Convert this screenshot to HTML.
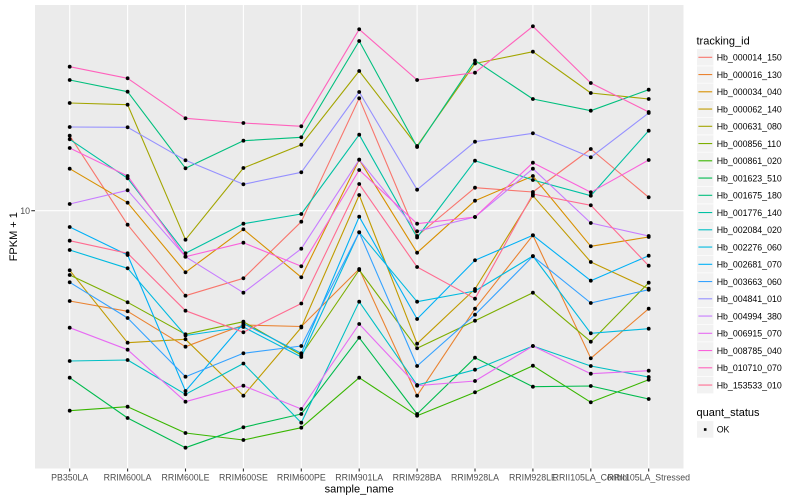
<!DOCTYPE html>
<html><head><meta charset="utf-8"><style>
html,body{margin:0;padding:0;background:#fff;}
svg{display:block;font-family:"Liberation Sans",Arial,sans-serif;}
.ax{fill:#4D4D4D;font-size:8.8px;}
.lg{fill:#000;font-size:8.8px;}
.tt{fill:#000;font-size:11px;}
.s{fill:none;stroke-width:1.1;stroke-linejoin:round;}
.p{fill:none;stroke:none;marker-start:url(#m);marker-mid:url(#m);marker-end:url(#m);}
</style></head><body>
<svg width="800" height="500" viewBox="0 0 800 500" xmlns="http://www.w3.org/2000/svg">
<defs>
<marker id="m" markerUnits="userSpaceOnUse" markerWidth="5" markerHeight="5" refX="2.5" refY="2.5"><circle cx="2.5" cy="2.5" r="1.9" fill="#000"/></marker>
</defs>
<rect width="800" height="500" fill="#fff"/>
<rect x="35" y="5" width="648.5" height="463.5" fill="#EBEBEB"/>
<g stroke="#fff" stroke-width="1.1">
<line x1="35" y1="210.7" x2="683.5" y2="210.7"/>
<line x1="69.7" y1="5" x2="69.7" y2="468.5"/>
<line x1="127.6" y1="5" x2="127.6" y2="468.5"/>
<line x1="185.5" y1="5" x2="185.5" y2="468.5"/>
<line x1="243.4" y1="5" x2="243.4" y2="468.5"/>
<line x1="301.3" y1="5" x2="301.3" y2="468.5"/>
<line x1="359.2" y1="5" x2="359.2" y2="468.5"/>
<line x1="417.1" y1="5" x2="417.1" y2="468.5"/>
<line x1="475" y1="5" x2="475" y2="468.5"/>
<line x1="532.9" y1="5" x2="532.9" y2="468.5"/>
<line x1="590.8" y1="5" x2="590.8" y2="468.5"/>
<line x1="648.7" y1="5" x2="648.7" y2="468.5"/>
</g>
<g id="lines">
<polyline class="s" stroke="#F8766D" points="69.7,135.7 127.6,224.7 185.5,295.7 243.4,278.3 301.3,221.7 359.2,98.3 417.1,236 475,187.7 532.9,192 590.8,149 648.7,197.3"/>
<polyline class="s" stroke="#EA8331" points="69.7,301 127.6,311.3 185.5,346.7 243.4,325 301.3,326.5 359.2,269 417.1,395.7 475,308.7 532.9,235.3 590.8,358.3 648.7,308.7"/>
<polyline class="s" stroke="#D89000" points="69.7,168.7 127.6,202.7 185.5,272.3 243.4,229.3 301.3,277.3 359.2,159.7 417.1,252.7 475,200.7 532.9,176 590.8,246.3 648.7,237"/>
<polyline class="s" stroke="#C09B00" points="69.7,270.3 127.6,342.7 185.5,339.3 243.4,395.7 301.3,327.5 359.2,195 417.1,343.7 475,289 532.9,195.7 590.8,262 648.7,288.7"/>
<polyline class="s" stroke="#A3A500" points="69.7,103 127.6,104.7 185.5,239.7 243.4,168 301.3,144.7 359.2,71 417.1,146 475,63.5 532.9,51.7 590.8,93 648.7,99"/>
<polyline class="s" stroke="#7CAE00" points="69.7,275 127.6,302.3 185.5,334.3 243.4,321.7 301.3,355 359.2,270 417.1,348.3 475,320.7 532.9,292.7 590.8,341.7 648.7,282.7"/>
<polyline class="s" stroke="#39B600" points="69.7,410.7 127.6,406.7 185.5,433 243.4,440 301.3,427.7 359.2,377.7 417.1,415.7 475,392.3 532.9,365.7 590.8,402.3 648.7,379.7"/>
<polyline class="s" stroke="#00BB4E" points="69.7,377.7 127.6,418 185.5,447.7 243.4,427.3 301.3,414 359.2,337.7 417.1,414 475,357.7 532.9,386.7 590.8,386 648.7,399"/>
<polyline class="s" stroke="#00BF7D" points="69.7,80 127.6,91.7 185.5,168.3 243.4,140.7 301.3,137.3 359.2,41 417.1,147 475,60.5 532.9,99 590.8,110.7 648.7,89.7"/>
<polyline class="s" stroke="#00C1A3" points="69.7,139.3 127.6,178.3 185.5,253.3 243.4,223.7 301.3,214 359.2,134.7 417.1,237.5 475,160.7 532.9,180 590.8,195.7 648.7,130.7"/>
<polyline class="s" stroke="#00BFC4" points="69.7,361 127.6,360 185.5,394.3 243.4,363.5 301.3,422.7 359.2,301.7 417.1,385 475,369.7 532.9,346 590.8,366 648.7,377"/>
<polyline class="s" stroke="#00BAE0" points="69.7,250 127.6,268.3 185.5,335.5 243.4,327 301.3,357 359.2,232.3 417.1,301.7 475,291 532.9,256 590.8,333.3 648.7,328.7"/>
<polyline class="s" stroke="#00B0F6" points="69.7,227 127.6,255 185.5,391 243.4,323.5 301.3,353.3 359.2,216.7 417.1,319 475,260.3 532.9,235.3 590.8,280.7 648.7,255.7"/>
<polyline class="s" stroke="#35A2FF" points="69.7,282.3 127.6,318 185.5,376.7 243.4,353.3 301.3,346 359.2,232.3 417.1,366 475,314.7 532.9,256.3 590.8,303 648.7,289.7"/>
<polyline class="s" stroke="#9590FF" points="69.7,127 127.6,127.3 185.5,160.3 243.4,184.3 301.3,172.3 359.2,92 417.1,189.7 475,141.7 532.9,133.3 590.8,157.3 648.7,113"/>
<polyline class="s" stroke="#C77CFF" points="69.7,204 127.6,190.3 185.5,256.7 243.4,292.7 301.3,248.7 359.2,159.7 417.1,231.3 475,217 532.9,168.7 590.8,223 648.7,236"/>
<polyline class="s" stroke="#E76BF3" points="69.7,327.7 127.6,349.7 185.5,401.7 243.4,385.7 301.3,409 359.2,324 417.1,385.7 475,381 532.9,346 590.8,373.7 648.7,370.7"/>
<polyline class="s" stroke="#FA62DB" points="69.7,148 127.6,176 185.5,256.7 243.4,242.7 301.3,266.3 359.2,170 417.1,223.7 475,217 532.9,162.7 590.8,192.3 648.7,160"/>
<polyline class="s" stroke="#FF62BC" points="69.7,66.7 127.6,78.3 185.5,118.3 243.4,123 301.3,126.3 359.2,29.3 417.1,80 475,72.7 532.9,26.3 590.8,83 648.7,112"/>
<polyline class="s" stroke="#FF6C91" points="69.7,240.7 127.6,253.3 185.5,310.7 243.4,332.3 301.3,303.5 359.2,184 417.1,267 475,298.7 532.9,194 590.8,205.3 648.7,265.7"/>
</g>
<g>
<polyline class="p" points="69.7,135.7 127.6,224.7 185.5,295.7 243.4,278.3 301.3,221.7 359.2,98.3 417.1,236 475,187.7 532.9,192 590.8,149 648.7,197.3"/>
<polyline class="p" points="69.7,301 127.6,311.3 185.5,346.7 243.4,325 301.3,326.5 359.2,269 417.1,395.7 475,308.7 532.9,235.3 590.8,358.3 648.7,308.7"/>
<polyline class="p" points="69.7,168.7 127.6,202.7 185.5,272.3 243.4,229.3 301.3,277.3 359.2,159.7 417.1,252.7 475,200.7 532.9,176 590.8,246.3 648.7,237"/>
<polyline class="p" points="69.7,270.3 127.6,342.7 185.5,339.3 243.4,395.7 301.3,327.5 359.2,195 417.1,343.7 475,289 532.9,195.7 590.8,262 648.7,288.7"/>
<polyline class="p" points="69.7,103 127.6,104.7 185.5,239.7 243.4,168 301.3,144.7 359.2,71 417.1,146 475,63.5 532.9,51.7 590.8,93 648.7,99"/>
<polyline class="p" points="69.7,275 127.6,302.3 185.5,334.3 243.4,321.7 301.3,355 359.2,270 417.1,348.3 475,320.7 532.9,292.7 590.8,341.7 648.7,282.7"/>
<polyline class="p" points="69.7,410.7 127.6,406.7 185.5,433 243.4,440 301.3,427.7 359.2,377.7 417.1,415.7 475,392.3 532.9,365.7 590.8,402.3 648.7,379.7"/>
<polyline class="p" points="69.7,377.7 127.6,418 185.5,447.7 243.4,427.3 301.3,414 359.2,337.7 417.1,414 475,357.7 532.9,386.7 590.8,386 648.7,399"/>
<polyline class="p" points="69.7,80 127.6,91.7 185.5,168.3 243.4,140.7 301.3,137.3 359.2,41 417.1,147 475,60.5 532.9,99 590.8,110.7 648.7,89.7"/>
<polyline class="p" points="69.7,139.3 127.6,178.3 185.5,253.3 243.4,223.7 301.3,214 359.2,134.7 417.1,237.5 475,160.7 532.9,180 590.8,195.7 648.7,130.7"/>
<polyline class="p" points="69.7,361 127.6,360 185.5,394.3 243.4,363.5 301.3,422.7 359.2,301.7 417.1,385 475,369.7 532.9,346 590.8,366 648.7,377"/>
<polyline class="p" points="69.7,250 127.6,268.3 185.5,335.5 243.4,327 301.3,357 359.2,232.3 417.1,301.7 475,291 532.9,256 590.8,333.3 648.7,328.7"/>
<polyline class="p" points="69.7,227 127.6,255 185.5,391 243.4,323.5 301.3,353.3 359.2,216.7 417.1,319 475,260.3 532.9,235.3 590.8,280.7 648.7,255.7"/>
<polyline class="p" points="69.7,282.3 127.6,318 185.5,376.7 243.4,353.3 301.3,346 359.2,232.3 417.1,366 475,314.7 532.9,256.3 590.8,303 648.7,289.7"/>
<polyline class="p" points="69.7,127 127.6,127.3 185.5,160.3 243.4,184.3 301.3,172.3 359.2,92 417.1,189.7 475,141.7 532.9,133.3 590.8,157.3 648.7,113"/>
<polyline class="p" points="69.7,204 127.6,190.3 185.5,256.7 243.4,292.7 301.3,248.7 359.2,159.7 417.1,231.3 475,217 532.9,168.7 590.8,223 648.7,236"/>
<polyline class="p" points="69.7,327.7 127.6,349.7 185.5,401.7 243.4,385.7 301.3,409 359.2,324 417.1,385.7 475,381 532.9,346 590.8,373.7 648.7,370.7"/>
<polyline class="p" points="69.7,148 127.6,176 185.5,256.7 243.4,242.7 301.3,266.3 359.2,170 417.1,223.7 475,217 532.9,162.7 590.8,192.3 648.7,160"/>
<polyline class="p" points="69.7,66.7 127.6,78.3 185.5,118.3 243.4,123 301.3,126.3 359.2,29.3 417.1,80 475,72.7 532.9,26.3 590.8,83 648.7,112"/>
<polyline class="p" points="69.7,240.7 127.6,253.3 185.5,310.7 243.4,332.3 301.3,303.5 359.2,184 417.1,267 475,298.7 532.9,194 590.8,205.3 648.7,265.7"/>
</g>
<!-- axes ticks -->
<g stroke="#333" stroke-width="1.1">
<line x1="31.3" y1="210.7" x2="35" y2="210.7"/>
<line x1="69.7" y1="468.5" x2="69.7" y2="471.5"/>
<line x1="127.6" y1="468.5" x2="127.6" y2="471.5"/>
<line x1="185.5" y1="468.5" x2="185.5" y2="471.5"/>
<line x1="243.4" y1="468.5" x2="243.4" y2="471.5"/>
<line x1="301.3" y1="468.5" x2="301.3" y2="471.5"/>
<line x1="359.2" y1="468.5" x2="359.2" y2="471.5"/>
<line x1="417.1" y1="468.5" x2="417.1" y2="471.5"/>
<line x1="475" y1="468.5" x2="475" y2="471.5"/>
<line x1="532.9" y1="468.5" x2="532.9" y2="471.5"/>
<line x1="590.8" y1="468.5" x2="590.8" y2="471.5"/>
<line x1="648.7" y1="468.5" x2="648.7" y2="471.5"/>
</g>
<text class="ax" x="30" y="213.9" text-anchor="end">10</text>
<g class="ax" text-anchor="middle">
<text x="69.7" y="480.5">PB350LA</text>
<text x="127.6" y="480.5">RRIM600LA</text>
<text x="185.5" y="480.5">RRIM600LE</text>
<text x="243.4" y="480.5">RRIM600SE</text>
<text x="301.3" y="480.5">RRIM600PE</text>
<text x="359.2" y="480.5">RRIM901LA</text>
<text x="417.1" y="480.5">RRIM928BA</text>
<text x="475" y="480.5">RRIM928LA</text>
<text x="532.9" y="480.5">RRIM928LE</text>
<text x="590.8" y="480.5">RRII105LA_Control</text>
<text x="648.7" y="480.5">RRII105LA_Stressed</text>
</g>
<text class="tt" x="359.2" y="492.3" text-anchor="middle">sample_name</text>
<text class="tt" transform="translate(16.8,236.7) rotate(-90)" text-anchor="middle">FPKM + 1</text>
<!-- legend -->
<text class="tt" x="696.5" y="44.6">tracking_id</text>
<g>
<g transform="translate(0,57.3)"><rect x="696.7" y="-8.6" width="17" height="17.25" fill="#F2F2F2" stroke="#fff" stroke-width="0.6"/><line x1="698.4" x2="712.2" y1="0" y2="0" stroke="#F8766D" stroke-width="1.1"/><text class="lg" x="716.7" y="3.2">Hb_000014_150</text></g>
<g transform="translate(0,74.55)"><rect x="696.7" y="-8.6" width="17" height="17.25" fill="#F2F2F2" stroke="#fff" stroke-width="0.6"/><line x1="698.4" x2="712.2" y1="0" y2="0" stroke="#EA8331" stroke-width="1.1"/><text class="lg" x="716.7" y="3.2">Hb_000016_130</text></g>
<g transform="translate(0,91.8)"><rect x="696.7" y="-8.6" width="17" height="17.25" fill="#F2F2F2" stroke="#fff" stroke-width="0.6"/><line x1="698.4" x2="712.2" y1="0" y2="0" stroke="#D89000" stroke-width="1.1"/><text class="lg" x="716.7" y="3.2">Hb_000034_040</text></g>
<g transform="translate(0,109.05)"><rect x="696.7" y="-8.6" width="17" height="17.25" fill="#F2F2F2" stroke="#fff" stroke-width="0.6"/><line x1="698.4" x2="712.2" y1="0" y2="0" stroke="#C09B00" stroke-width="1.1"/><text class="lg" x="716.7" y="3.2">Hb_000062_140</text></g>
<g transform="translate(0,126.3)"><rect x="696.7" y="-8.6" width="17" height="17.25" fill="#F2F2F2" stroke="#fff" stroke-width="0.6"/><line x1="698.4" x2="712.2" y1="0" y2="0" stroke="#A3A500" stroke-width="1.1"/><text class="lg" x="716.7" y="3.2">Hb_000631_080</text></g>
<g transform="translate(0,143.55)"><rect x="696.7" y="-8.6" width="17" height="17.25" fill="#F2F2F2" stroke="#fff" stroke-width="0.6"/><line x1="698.4" x2="712.2" y1="0" y2="0" stroke="#7CAE00" stroke-width="1.1"/><text class="lg" x="716.7" y="3.2">Hb_000856_110</text></g>
<g transform="translate(0,160.8)"><rect x="696.7" y="-8.6" width="17" height="17.25" fill="#F2F2F2" stroke="#fff" stroke-width="0.6"/><line x1="698.4" x2="712.2" y1="0" y2="0" stroke="#39B600" stroke-width="1.1"/><text class="lg" x="716.7" y="3.2">Hb_000861_020</text></g>
<g transform="translate(0,178.05)"><rect x="696.7" y="-8.6" width="17" height="17.25" fill="#F2F2F2" stroke="#fff" stroke-width="0.6"/><line x1="698.4" x2="712.2" y1="0" y2="0" stroke="#00BB4E" stroke-width="1.1"/><text class="lg" x="716.7" y="3.2">Hb_001623_510</text></g>
<g transform="translate(0,195.3)"><rect x="696.7" y="-8.6" width="17" height="17.25" fill="#F2F2F2" stroke="#fff" stroke-width="0.6"/><line x1="698.4" x2="712.2" y1="0" y2="0" stroke="#00BF7D" stroke-width="1.1"/><text class="lg" x="716.7" y="3.2">Hb_001675_180</text></g>
<g transform="translate(0,212.55)"><rect x="696.7" y="-8.6" width="17" height="17.25" fill="#F2F2F2" stroke="#fff" stroke-width="0.6"/><line x1="698.4" x2="712.2" y1="0" y2="0" stroke="#00C1A3" stroke-width="1.1"/><text class="lg" x="716.7" y="3.2">Hb_001776_140</text></g>
<g transform="translate(0,229.8)"><rect x="696.7" y="-8.6" width="17" height="17.25" fill="#F2F2F2" stroke="#fff" stroke-width="0.6"/><line x1="698.4" x2="712.2" y1="0" y2="0" stroke="#00BFC4" stroke-width="1.1"/><text class="lg" x="716.7" y="3.2">Hb_002084_020</text></g>
<g transform="translate(0,247.05)"><rect x="696.7" y="-8.6" width="17" height="17.25" fill="#F2F2F2" stroke="#fff" stroke-width="0.6"/><line x1="698.4" x2="712.2" y1="0" y2="0" stroke="#00BAE0" stroke-width="1.1"/><text class="lg" x="716.7" y="3.2">Hb_002276_060</text></g>
<g transform="translate(0,264.3)"><rect x="696.7" y="-8.6" width="17" height="17.25" fill="#F2F2F2" stroke="#fff" stroke-width="0.6"/><line x1="698.4" x2="712.2" y1="0" y2="0" stroke="#00B0F6" stroke-width="1.1"/><text class="lg" x="716.7" y="3.2">Hb_002681_070</text></g>
<g transform="translate(0,281.55)"><rect x="696.7" y="-8.6" width="17" height="17.25" fill="#F2F2F2" stroke="#fff" stroke-width="0.6"/><line x1="698.4" x2="712.2" y1="0" y2="0" stroke="#35A2FF" stroke-width="1.1"/><text class="lg" x="716.7" y="3.2">Hb_003663_060</text></g>
<g transform="translate(0,298.8)"><rect x="696.7" y="-8.6" width="17" height="17.25" fill="#F2F2F2" stroke="#fff" stroke-width="0.6"/><line x1="698.4" x2="712.2" y1="0" y2="0" stroke="#9590FF" stroke-width="1.1"/><text class="lg" x="716.7" y="3.2">Hb_004841_010</text></g>
<g transform="translate(0,316.05)"><rect x="696.7" y="-8.6" width="17" height="17.25" fill="#F2F2F2" stroke="#fff" stroke-width="0.6"/><line x1="698.4" x2="712.2" y1="0" y2="0" stroke="#C77CFF" stroke-width="1.1"/><text class="lg" x="716.7" y="3.2">Hb_004994_380</text></g>
<g transform="translate(0,333.3)"><rect x="696.7" y="-8.6" width="17" height="17.25" fill="#F2F2F2" stroke="#fff" stroke-width="0.6"/><line x1="698.4" x2="712.2" y1="0" y2="0" stroke="#E76BF3" stroke-width="1.1"/><text class="lg" x="716.7" y="3.2">Hb_006915_070</text></g>
<g transform="translate(0,350.55)"><rect x="696.7" y="-8.6" width="17" height="17.25" fill="#F2F2F2" stroke="#fff" stroke-width="0.6"/><line x1="698.4" x2="712.2" y1="0" y2="0" stroke="#FA62DB" stroke-width="1.1"/><text class="lg" x="716.7" y="3.2">Hb_008785_040</text></g>
<g transform="translate(0,367.8)"><rect x="696.7" y="-8.6" width="17" height="17.25" fill="#F2F2F2" stroke="#fff" stroke-width="0.6"/><line x1="698.4" x2="712.2" y1="0" y2="0" stroke="#FF62BC" stroke-width="1.1"/><text class="lg" x="716.7" y="3.2">Hb_010710_070</text></g>
<g transform="translate(0,385.05)"><rect x="696.7" y="-8.6" width="17" height="17.25" fill="#F2F2F2" stroke="#fff" stroke-width="0.6"/><line x1="698.4" x2="712.2" y1="0" y2="0" stroke="#FF6C91" stroke-width="1.1"/><text class="lg" x="716.7" y="3.2">Hb_153533_010</text></g>
</g>
<text class="tt" x="696.5" y="416">quant_status</text>
<rect x="696.7" y="420.8" width="17" height="17.25" fill="#F2F2F2" stroke="#fff" stroke-width="0.6"/>
<rect x="703.9" y="428.2" width="2.6" height="2.6" fill="#000"/>
<text class="lg" x="716.7" y="432.6">OK</text>
</svg>
</body></html>
